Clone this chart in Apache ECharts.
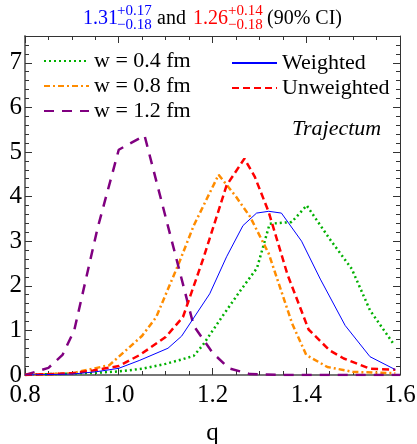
<!DOCTYPE html>
<html>
<head>
<meta charset="utf-8">
<script src="https://cdn.jsdelivr.net/npm/echarts@6/dist/echarts.min.js"></script>
<style>
  html, body { margin: 0; padding: 0; background: #fff; }
  #plot { width: 417px; height: 444px; }
</style>
</head>
<body>
<div id="plot"></div>
<script>
// q values and density per curve
var qW04 = [0.80, 0.85, 0.90, 0.95, 1.00, 1.05, 1.10, 1.135, 1.16, 1.18, 1.22, 1.26, 1.295, 1.322, 1.369, 1.401, 1.45, 1.497, 1.536, 1.586];
var yW04 = [0.00, 0.02, 0.03, 0.05, 0.08, 0.14, 0.25, 0.35, 0.43, 0.68, 1.30, 1.90, 2.40, 3.39, 3.43, 3.80, 3.05, 2.38, 1.45, 0.70];

var qW08 = [0.80, 0.90, 0.98, 1.05, 1.08, 1.13, 1.16, 1.213, 1.25, 1.28, 1.32, 1.37, 1.40, 1.445, 1.50, 1.59];
var yW08 = [0.00, 0.04, 0.22, 0.88, 1.30, 2.55, 3.35, 4.49, 4.00, 3.55, 2.72, 1.15, 0.45, 0.18, 0.07, 0.04];

var qW12 = [0.80, 0.85, 0.88, 0.905, 0.955, 1.00, 1.055, 1.16, 1.20, 1.235, 1.28, 1.35, 1.60];
var yW12 = [0.00, 0.16, 0.45, 1.00, 3.30, 5.05, 5.37, 1.10, 0.50, 0.15, 0.02, 0.00, 0.00];

var qWeighted = [0.80, 0.90, 0.95, 1.00, 1.045, 1.105, 1.134, 1.194, 1.23, 1.265, 1.294, 1.32, 1.347, 1.39, 1.43, 1.483, 1.536, 1.59];
var yWeighted = [0.00, 0.02, 0.07, 0.15, 0.33, 0.60, 0.87, 1.82, 2.65, 3.35, 3.63, 3.67, 3.63, 3.00, 2.15, 1.11, 0.41, 0.12];

var qUnweighted = [0.80, 0.90, 0.945, 1.00, 1.045, 1.10, 1.137, 1.18, 1.23, 1.268, 1.29, 1.32, 1.36, 1.405, 1.45, 1.48, 1.536, 1.59];
var yUnweighted = [0.00, 0.04, 0.10, 0.20, 0.45, 0.85, 1.30, 2.60, 4.25, 4.85, 4.45, 3.65, 2.25, 1.02, 0.55, 0.37, 0.14, 0.12];

var xTicks = [0.8, 1.0, 1.2, 1.4, 1.6];
var yTicks = [0, 1, 2, 3, 4, 5, 6, 7];

var serif = '"Times New Roman", "Liberation Serif", Times, serif';

function pairs(qs, ys) {
  return qs.map(function (q, i) { return [q, ys[i]]; });
}

function makeLine(name, qs, ys, color, width, dash) {
  return {
    name: name,
    type: 'line',
    symbol: 'none',
    showSymbol: false,
    smooth: false,
    silent: true,
    data: pairs(qs, ys),
    lineStyle: { color: color, width: width, type: dash, cap: 'butt' },
    itemStyle: { color: color }
  };
}

var chart = echarts.init(document.getElementById('plot'));

var tickAxis = function (pos, isX, showLabel) {
  var main = (pos === 'left' || pos === 'bottom');
  return {
    type: 'value',
    position: pos,
    min: isX ? xTicks[0] : yTicks[0],
    max: isX ? xTicks[xTicks.length - 1] : 7.6,
    interval: isX ? 0.2 : 1,
    splitLine: { show: false },
    axisLine: { show: true, onZero: false, lineStyle: { color: main ? '#777' : '#333', width: main ? 2 : 1 } },
    axisTick: { show: true, inside: true, length: 7, lineStyle: { color: '#333' } },
    minorTick: { show: true, splitNumber: isX ? 4 : 5, length: 4, lineStyle: { color: '#333' } },
    axisLabel: { show: showLabel, showMaxLabel: isX, color: '#000', fontFamily: serif, fontSize: 25,
      margin: isX ? 8 : 3,
      formatter: function (v) { return isX ? v.toFixed(1) : String(v); } }
  };
};

var xBottom = tickAxis('bottom', true, true);
xBottom.name = 'q';
xBottom.nameLocation = 'middle';
xBottom.nameGap = 46;
xBottom.nameTextStyle = { color: '#000', fontFamily: serif, fontSize: 25 };

var legendBase = {
  orient: 'vertical',
  itemWidth: 45, itemHeight: 12, itemGap: 3,
  selectedMode: false,
  itemStyle: { opacity: 0 },
  textStyle: { fontFamily: serif, fontSize: 22, color: '#000' }
};

var option = {
  animation: false,
  backgroundColor: '#fff',
  grid: { left: 25, right: 17, top: 36, bottom: 69, containLabel: false, outerBoundsMode: 'none' },
  xAxis: [xBottom, tickAxis('top', true, false)],
  yAxis: [tickAxis('left', false, true), tickAxis('right', false, false)],
  legend: [
    Object.assign({}, legendBase, { data: ['w = 0.4 fm', 'w = 0.8 fm', 'w = 1.2 fm'], left: 38, top: 45 }),
    Object.assign({}, legendBase, { data: ['Weighted', 'Unweighted'], left: 226, top: 47 })
  ],
  series: [
    makeLine('w = 0.4 fm', qW04, yW04, '#00b000', 2.5, [2, 3]),
    makeLine('w = 0.8 fm', qW08, yW08, '#ff8c00', 2.5, [6, 3, 2, 3]),
    makeLine('w = 1.2 fm', qW12, yW12, '#800080', 2.5, [10, 8]),
    makeLine('Unweighted', qUnweighted, yUnweighted, '#ff0000', 2.5, [7, 4]),
    makeLine('Weighted', qWeighted, yWeighted, '#0000ff', 1, 'solid')
  ],
  graphic: [
    { type: 'text', left: 83, top: 9, style: { text: '1.31', fill: '#0000ff', font: '20px ' + serif } },
    { type: 'text', left: 117, top: 4, style: { text: '+0.17', fill: '#0000ff', font: '15px ' + serif } },
    { type: 'text', left: 117, top: 18, style: { text: '\u22120.18', fill: '#0000ff', font: '15px ' + serif } },
    { type: 'text', left: 157, top: 9, style: { text: 'and', fill: '#000', font: '20px ' + serif } },
    { type: 'text', left: 193, top: 9, style: { text: '1.26', fill: '#ff0000', font: '20px ' + serif } },
    { type: 'text', left: 228, top: 4, style: { text: '+0.14', fill: '#ff0000', font: '15px ' + serif } },
    { type: 'text', left: 228, top: 18, style: { text: '\u22120.18', fill: '#ff0000', font: '15px ' + serif } },
    { type: 'text', left: 267, top: 9, style: { text: '(90% CI)', fill: '#000', font: '20px ' + serif } },
    { type: 'text', left: 292, top: 118, style: { text: 'Trajectum', fill: '#000', font: 'italic 22px ' + serif } }
  ]
};

chart.setOption(option);
</script>
</body>
</html>
